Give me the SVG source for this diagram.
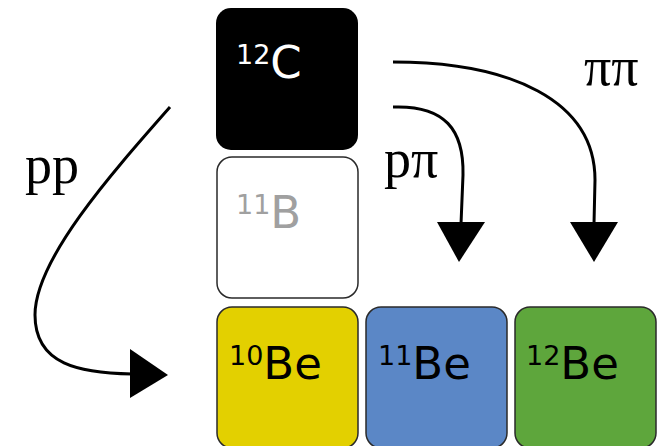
<svg xmlns="http://www.w3.org/2000/svg" width="659" height="446" viewBox="0 0 659 446">
  <style>
    .box { stroke: #2a2a2a; stroke-width: 1.5; }
    .lbl { font-family: "DejaVu Sans", "Verdana", sans-serif; }
    .big { font-size: 45px; }
    .sup { font-size: 27px; }
    .chan { font-family: "Liberation Serif", "Times New Roman", serif; font-size: 54px; fill: #000; }
    .wire { fill: none; stroke: #000; stroke-width: 3; }
    .head { fill: #000; }
  </style>
  <rect width="659" height="446" fill="#fff"/>

  <g id="c12">
    <rect x="216" y="8" width="142" height="142" rx="15" fill="#000"/>
    <text class="lbl" x="236" y="78" fill="#fff"><tspan class="sup" dy="-14">12</tspan><tspan class="big" dy="14">C</tspan></text>
  </g>

  <g id="b11">
    <rect class="box" x="217" y="157" width="141" height="141" rx="15" fill="#fff"/>
    <text class="lbl" x="236" y="228" fill="#a0a0a0"><tspan class="sup" dy="-14">11</tspan><tspan class="big" dy="14">B</tspan></text>
  </g>

  <g id="be10">
    <rect class="box" x="217" y="307" width="141" height="141" rx="15" fill="#e3d000"/>
    <text class="lbl" x="229" y="379" fill="#000"><tspan class="sup" dy="-14">10</tspan><tspan class="big" dy="14">Be</tspan></text>
  </g>

  <g id="be11">
    <rect class="box" x="366" y="307" width="141" height="141" rx="15" fill="#5b87c6"/>
    <text class="lbl" x="378" y="379" fill="#000"><tspan class="sup" dy="-14">11</tspan><tspan class="big" dy="14">Be</tspan></text>
  </g>

  <g id="be12">
    <rect class="box" x="515" y="307" width="141" height="141" rx="15" fill="#5ea63c"/>
    <text class="lbl" x="526" y="379" fill="#000"><tspan class="sup" dy="-14">12</tspan><tspan class="big" dy="14">Be</tspan></text>
  </g>

  <g id="connectors">
    <path class="wire" d="M170,107 C110,175 35,260 35,315 C35,365 80,373 132,374"/>
    <polygon class="head" points="130,349 168,375 130,398"/>

    <path class="wire" d="M393,107 C445,105 464,130 463,175 L461,224"/>
    <polygon class="head" points="437,222 485,222 459,262"/>

    <path class="wire" d="M393,62 C510,62 595,100 595,180 L594,224"/>
    <polygon class="head" points="570,222 618,222 594,262"/>
  </g>

  <g id="labels">
    <text class="chan" x="25" y="183">pp</text>
    <text class="chan" x="384" y="177">pπ</text>
    <text class="chan" x="584" y="85">ππ</text>
  </g>
</svg>
